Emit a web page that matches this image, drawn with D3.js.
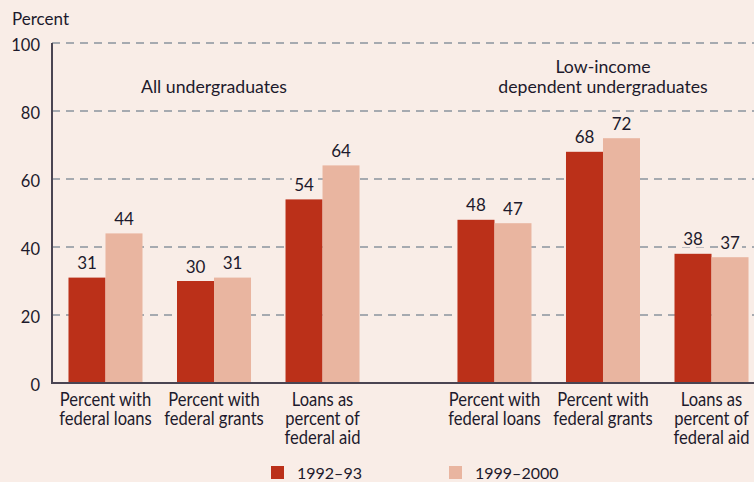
<!DOCTYPE html>
<html>
<head>
<meta charset="utf-8">
<script src="https://cdn.jsdelivr.net/npm/d3@7"></script>
<style>
  html, body { margin: 0; padding: 0; background: #f9ede7; }
  svg { display: block; }
  text { font-family: Lato, "Open Sans", sans-serif; fill: #1d1a2c; }
</style>
</head>
<body>
<svg id="chart" width="754" height="482"></svg>
<script>
// Federal aid among undergraduates, two survey years
const panels = ["All undergraduates", "Low-income dependent undergraduates"];
const panelTitleLines = [["All undergraduates"], ["Low-income", "dependent undergraduates"]];
const categories = ["Percent with federal loans", "Percent with federal grants", "Loans as percent of federal aid"];
const categoryLines = [["Percent with", "federal loans"], ["Percent with", "federal grants"], ["Loans as", "percent of", "federal aid"]];
const series = ["1992–93", "1999–2000"];
const allUndergrad1992 = [31, 30, 54];
const allUndergrad1999 = [44, 31, 64];
const lowIncome1992 = [48, 68, 38];
const lowIncome1999 = [47, 72, 37];
const yTicks = [0, 20, 40, 60, 80, 100];

const panelValues = [
  [allUndergrad1992, allUndergrad1999],
  [lowIncome1992, lowIncome1999]
];

const W = 754, H = 482;
const margin = { left: 52, top: 43, bottom: 99 };
const colors = d3.scaleOrdinal().domain(series).range(["#bb3019", "#e9b5a0"]);
const bg = "#f9ede7";

const svg = d3.select("#chart");

const y = d3.scaleLinear().domain([0, 100]).range([H - margin.bottom, margin.top]);

const xPanel = d3.scaleBand().domain(panels).range([margin.left, 765]).paddingInner(0.167);
const xCat = d3.scaleBand().domain(categories).range([0, xPanel.bandwidth()])
  .paddingInner(0.318).paddingOuter(0.152);
const xSeries = d3.scaleBand().domain(series).range([0, xCat.bandwidth()]);

// Dashed gridlines
svg.append("g").selectAll("line").data(yTicks.filter(d => d > 0)).join("line")
  .attr("x1", margin.left).attr("x2", W)
  .attr("y1", d => y(d)).attr("y2", d => y(d))
  .attr("stroke", "#8a949e").attr("stroke-width", 1.5)
  .attr("stroke-dasharray", "8,6");

// Y tick labels
svg.append("g").selectAll("text").data(yTicks).join("text")
  .attr("x", 40).attr("y", d => y(d) + 8)
  .attr("text-anchor", "end").style("font-size", "16.5px")
  .text(d => d);

svg.append("text").attr("x", 12).attr("y", 25).style("font-size", "17px").text("Percent");

// Bars, value labels and category labels per panel
panels.forEach((p, pi) => {
  const g = svg.append("g").attr("transform", `translate(${xPanel(p)},0)`);
  const rows = [];
  categories.forEach((c, ci) => {
    series.forEach((s, si) => {
      rows.push({ c, s, v: panelValues[pi][si][ci] });
    });
  });

  g.selectAll("rect.bar").data(rows).join("rect").attr("class", "bar")
    .attr("x", d => xCat(d.c) + xSeries(d.s))
    .attr("width", xSeries.bandwidth())
    .attr("y", d => y(d.v))
    .attr("height", d => y(0) - y(d.v))
    .attr("fill", d => colors(d.s));

  const lab = g.selectAll("g.val").data(rows).join("g").attr("class", "val")
    .attr("transform", d => `translate(${xCat(d.c) + xSeries(d.s) + xSeries.bandwidth() / 2},${y(d.v) - 8.5})`);
  lab.append("rect").attr("x", -12).attr("y", -14).attr("width", 24).attr("height", 16).attr("fill", bg);
  lab.append("text").attr("text-anchor", "middle").style("font-size", "17px").text(d => d.v);

  // Category labels under the axis, set in a narrowed face
  const cl = g.selectAll("text.cat").data(categories).join("text").attr("class", "cat")
    .attr("text-anchor", "middle").style("font-size", "18.5px")
    .attr("transform", c => `translate(${xCat(c) + xCat.bandwidth() / 2},${y(0) + 23}) scale(0.895,1)`);
  cl.selectAll("tspan").data(c => categoryLines[categories.indexOf(c)]).join("tspan")
    .attr("x", 0).attr("dy", (d, i) => i === 0 ? 0 : 19).text(d => d);

  // Panel title centred over the middle category
  const lines = panelTitleLines[pi];
  const cx = xCat(categories[1]) + xCat.bandwidth() / 2;
  g.selectAll("text.title").data(lines).join("text").attr("class", "title")
    .attr("x", cx).attr("y", (d, i) => 93 - (lines.length - 1 - i) * 20)
    .attr("text-anchor", "middle").style("font-size", "17.7px").text(d => d);
});

// Axes lines
svg.append("line").attr("x1", margin.left).attr("x2", margin.left)
  .attr("y1", y(100)).attr("y2", y(0)).attr("stroke", "#4a4452").attr("stroke-width", 2);
svg.append("line").attr("x1", margin.left - 1).attr("x2", W)
  .attr("y1", y(0)).attr("y2", y(0)).attr("stroke", "#4a4452").attr("stroke-width", 2);

// Legend
const legendX = [271, 449];
const leg = svg.append("g").selectAll("g").data(series).join("g")
  .attr("transform", (d, i) => `translate(${legendX[i]},466)`);
leg.append("rect").attr("width", 13).attr("height", 13).attr("fill", d => colors(d));
leg.append("text").attr("x", 26).attr("y", 12.5).style("font-size", "16px").text(d => d);
</script>
</body>
</html>
